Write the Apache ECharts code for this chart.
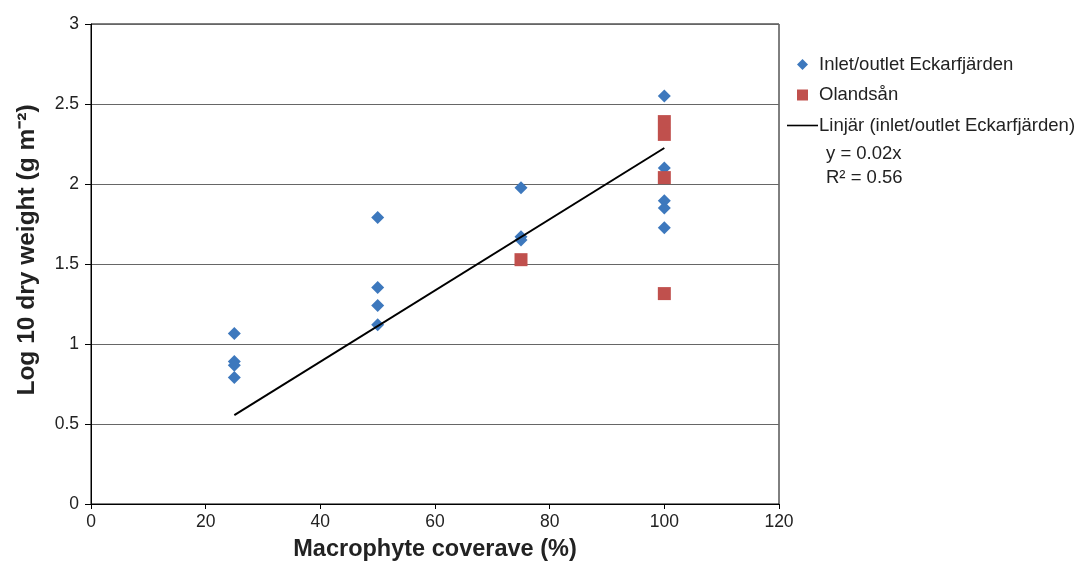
<!DOCTYPE html>
<html><head><meta charset="utf-8">
<script src="https://cdn.jsdelivr.net/npm/echarts@6/dist/echarts.min.js"></script>
<style>html,body{margin:0;padding:0;background:#fff}#c{width:1087px;height:567px}</style>
</head><body><div id="c"></div>
<script>
const inletX = [25,25,25,25, 50,50,50,50, 75,75,75, 100,100,100,100,100];
const inletY = [1.066,0.89,0.867,0.79, 1.79,1.353,1.24,1.12, 1.976,1.67,1.65, 2.55,2.10,1.895,1.85,1.727];
const olandX = [75, 100,100,100,100];
const olandY = [1.527, 2.39,2.31,2.04,1.315];
const trendX = [25, 100];
const trendY = [0.555, 2.225];
const xTicks = [0,20,40,60,80,100,120];
const yTicks = [0,0.5,1,1.5,2,2.5,3];
const names = ['Inlet/outlet Eckarfjärden','Olandsån','Linjär (inlet/outlet Eckarfjärden)'];
const eqText = ['y = 0.02x','R² = 0.56'];
const xTitle = 'Macrophyte coverave (%)';
const yTitle = 'Log 10 dry weight (g m⁻²)';

const zip = (a,b)=>a.map((v,i)=>[v,b[i]]);
const chart = echarts.init(document.getElementById('c'));
const font = 'Liberation Sans, Arial, sans-serif';
chart.setOption({
  animation:false,
  textStyle:{fontFamily:font},
  grid:{left:91,right:308,top:24,bottom:62,show:true,borderColor:'#000',borderWidth:1},
  xAxis:{type:'value',min:xTicks[0],max:xTicks[xTicks.length-1],interval:20,
    name:xTitle,nameLocation:'middle',nameGap:34,
    nameTextStyle:{fontSize:23.5,fontWeight:'bold',color:'#222',fontFamily:font},
    axisLine:{lineStyle:{color:'#000'}},axisTick:{show:true,length:5,lineStyle:{color:'#000'}},
    axisLabel:{fontSize:17.5,color:'#222',margin:9},
    splitLine:{show:false}},
  yAxis:{type:'value',min:yTicks[0],max:yTicks[yTicks.length-1],interval:0.5,
    axisLine:{show:true,lineStyle:{color:'#000'}},axisTick:{show:true,length:6,lineStyle:{color:'#000'}},
    axisLabel:{fontSize:17.5,color:'#222',margin:12,formatter:v=>String(v)},
    splitLine:{show:true,lineStyle:{color:'#666',width:1}}},
  legend:{orient:'vertical',left:782,top:50,itemGap:11.5,itemWidth:31,itemHeight:11,
    textStyle:{fontSize:18.5,lineHeight:19,color:'#222',fontFamily:font,padding:[0,0,0,-4]},
    data:[{name:names[0],icon:'path://M0,6L6,0L12,6L6,12Z'},
          {name:names[1],icon:'path://M0,0H12V12H0Z'},
          {name:names[2],icon:'path://M0,0H31V1.6H0Z'}]},
  graphic:[
    {type:'text',x:27,y:250,rotation:Math.PI/2,
      style:{text:yTitle,fontSize:24.5,fontWeight:'bold',fill:'#222',fontFamily:font,align:'center',verticalAlign:'middle'}},
    {type:'text',left:826,top:144,style:{text:eqText[0],fontSize:18.5,fill:'#222',fontFamily:font}},
    {type:'text',left:826,top:168,style:{text:eqText[1],fontSize:18.5,fill:'#222',fontFamily:font}}
  ],
  series:[
    {name:names[0],type:'scatter',symbol:'diamond',symbolSize:13,data:zip(inletX,inletY),
      itemStyle:{color:'#3d78bd',opacity:1},z:3},
    {name:names[1],type:'scatter',symbol:'rect',symbolSize:13,data:zip(olandX,olandY),
      itemStyle:{color:'#c0504d',opacity:1},z:3},
    {name:names[2],type:'line',data:zip(trendX,trendY),symbol:'none',
      lineStyle:{color:'#000',width:2},itemStyle:{color:'#000'},z:4}
  ]
});
</script></body></html>
